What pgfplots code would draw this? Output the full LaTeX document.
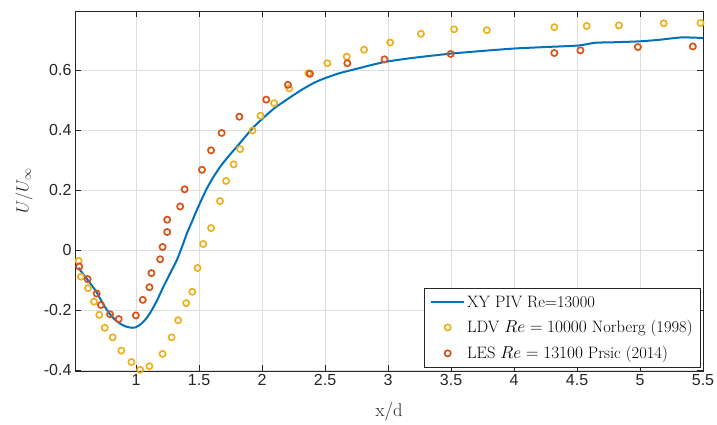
\documentclass[border=0pt]{standalone}
\usepackage{pgfplots}
\pgfplotsset{compat=1.18}
\usepackage{fontspec}
\newfontfamily\helv{Liberation Sans}
\definecolor{mblue}{rgb}{0,0.447,0.741}
\definecolor{myellow}{rgb}{0.929,0.694,0.125}
\definecolor{mred}{rgb}{0.85,0.325,0.098}
\definecolor{axgray}{rgb}{0.15,0.15,0.15}
\pgfplotsset{
 lineleg/.style={legend image code/.code={\draw[##1] (0pt,0pt) -- (33pt,0pt);}},
 markleg/.style={legend image code/.code={\draw[mark repeat=2,mark phase=2,##1] plot coordinates {(0pt,0pt) (16.5pt,0pt) (33pt,0pt)};}},
}
\begin{document}
\begin{tikzpicture}
\begin{axis}[
 scale only axis, width=628pt, height=360pt,
 xmin=0.515, xmax=5.5, ymin=-0.402, ymax=0.797,
 xtick={1,1.5,2,2.5,3,3.5,4,4.5,5,5.5},
 ytick={-0.4,-0.2,0,0.2,0.4,0.6},
 grid=major, grid style={color=black!13, line width=0.6pt},
 axis line style={color=axgray, line width=0.7pt},
 tick style={color=axgray, line width=0.7pt},
 tick align=inside, major tick length=6pt,
 ticklabel style={font=\helv\fontsize{16}{18}\selectfont, color=axgray},
 /pgf/number format/assume math mode=true,
 xlabel={x/d}, ylabel={$U/U_\infty$},
 label style={font=\fontsize{18.5}{22}\selectfont, color=axgray},
 xlabel style={at={(axis description cs:0.5,-0.1139)}, anchor=center},
 ylabel style={at={(axis description cs:-0.0812,0.5)}, anchor=center},
 legend cell align=left,
 legend style={draw=axgray, line width=0.7pt, fill=white, at={(0.996,0.008)}, anchor=south east,
   font=\fontsize{16.5}{19}\selectfont, row sep=8pt, inner sep=5.5pt},
]
\addplot[mblue, line width=2pt, no marks, smooth, tension=0.4, lineleg] coordinates {
(0.545,-0.058) (0.554,-0.065) (0.60,-0.09) (0.65,-0.118) (0.687,-0.14) (0.74,-0.18)
(0.793,-0.213) (0.84,-0.234) (0.88,-0.246) (0.92,-0.254) (0.966,-0.258) (1.00,-0.256)
(1.04,-0.245) (1.075,-0.23) (1.111,-0.209) (1.165,-0.168) (1.217,-0.121) (1.27,-0.077)
(1.324,-0.032) (1.365,0.012) (1.404,0.057) (1.445,0.097) (1.483,0.135) (1.523,0.172)
(1.563,0.207) (1.615,0.245) (1.669,0.279) (1.735,0.314) (1.802,0.346) (1.87,0.38)
(1.934,0.411) (2.02,0.445) (2.1,0.474) (2.2,0.503) (2.32,0.536) (2.438,0.563) (2.6,0.588)
(2.783,0.608) (2.97,0.627) (3.2,0.641) (3.497,0.655) (3.75,0.664) (4.0,0.672)
(4.25,0.677) (4.51,0.682) (4.64,0.691) (4.8,0.693) (5.0,0.696) (5.15,0.701)
(5.33,0.709) (5.5,0.707)
};
\addlegendentry{XY PIV Re=13000}
\addplot[only marks, mark=o, mark size=3.1pt, myellow, line width=1.7pt, markleg] coordinates {
(0.544,-0.035) (0.562,-0.088) (0.618,-0.126) (0.666,-0.171) (0.708,-0.215) (0.751,-0.258)
(0.814,-0.29) (0.883,-0.334) (0.963,-0.372) (1.032,-0.398) (1.106,-0.386) (1.21,-0.345)
(1.282,-0.29) (1.334,-0.233) (1.398,-0.176) (1.446,-0.138) (1.488,-0.059) (1.533,0.021)
(1.595,0.074) (1.666,0.164) (1.714,0.231) (1.774,0.286) (1.826,0.337) (1.924,0.399)
(1.987,0.448) (2.096,0.49) (2.216,0.539) (2.367,0.59) (2.518,0.623) (2.672,0.645)
(2.81,0.668) (3.017,0.692) (3.261,0.721) (3.524,0.736) (3.784,0.733) (4.32,0.743)
(4.577,0.747) (4.832,0.749) (5.188,0.756) (5.48,0.757)
};
\addlegendentry{LDV $Re=10000$ Norberg (1998)}
\addplot[only marks, mark=o, mark size=3.1pt, mred, line width=1.7pt, markleg] coordinates {
(0.549,-0.054) (0.615,-0.096) (0.687,-0.144) (0.721,-0.182) (0.793,-0.213) (0.862,-0.229)
(0.998,-0.217) (1.053,-0.165) (1.106,-0.123) (1.122,-0.076) (1.191,-0.03) (1.21,0.011)
(1.247,0.061) (1.247,0.102) (1.35,0.146) (1.385,0.203) (1.523,0.268) (1.595,0.333)
(1.679,0.391) (1.82,0.445) (2.033,0.502) (2.205,0.551) (2.38,0.588) (2.677,0.623)
(2.972,0.636) (3.497,0.654) (4.32,0.657) (4.527,0.666) (4.983,0.677) (5.419,0.679)
};
\addlegendentry{LES $Re=13100$ Prsic (2014)}
\end{axis}
\pgfresetboundingbox
\path[use as bounding box] ([shift={(-75pt,-54pt)}]current axis.south west) rectangle ([shift={(14pt,11pt)}]current axis.north east);
\end{tikzpicture}
\end{document}
